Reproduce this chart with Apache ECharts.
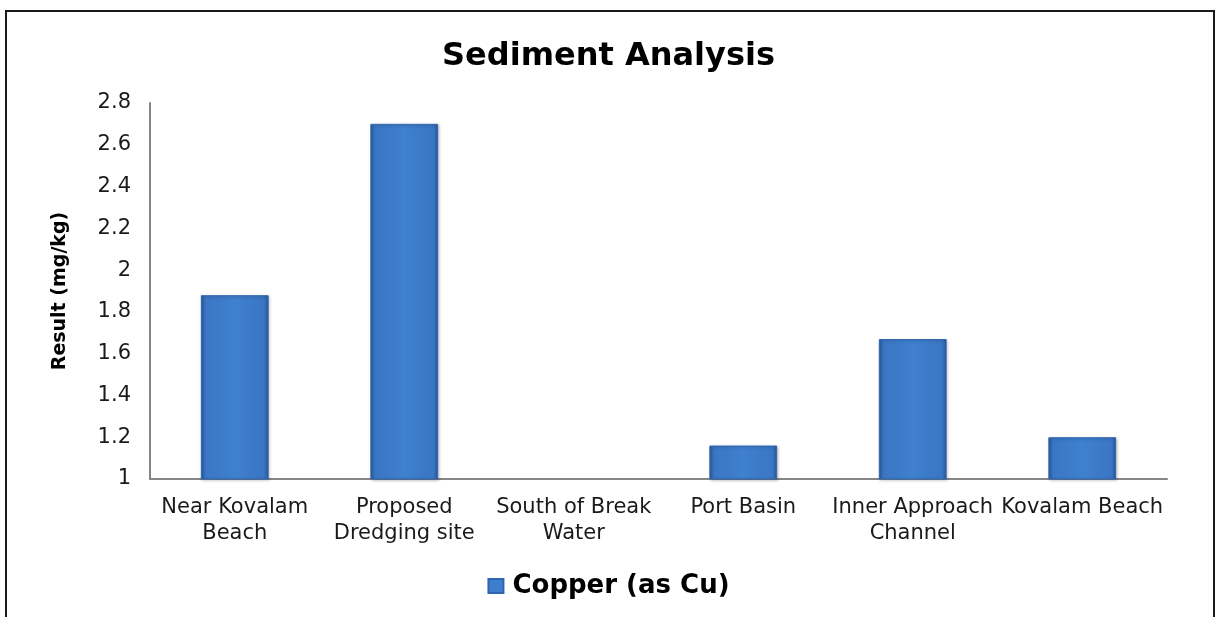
<!DOCTYPE html>
<html>
<head>
<meta charset="utf-8">
<script src="https://cdn.jsdelivr.net/npm/echarts@6/dist/echarts.min.js"></script>
<style>
  html, body { margin: 0; padding: 0; background: #ffffff; }
  #chart { width: 1217px; height: 617px; }
</style>
</head>
<body>
<div id="chart"></div>
<script>
const chartTitle = 'Sediment Analysis';
const yAxisName = 'Result (mg/kg)';
const seriesName = 'Copper (as Cu)';
const categories = [
  'Near Kovalam\nBeach',
  'Proposed\nDredging site',
  'South of Break\nWater',
  'Port Basin',
  'Inner Approach\nChannel',
  'Kovalam Beach'
];
const copperValues = [1.88, 2.7, null, 1.16, 1.67, 1.2];
const yMin = 1;
const yMax = 2.8;
const yStep = 0.2;

const barGradient = new echarts.graphic.LinearGradient(0, 0, 1, 0, [
  { offset: 0, color: '#2a5b9e' },
  { offset: 0.07, color: '#3a76c3' },
  { offset: 0.5, color: '#3f80cf' },
  { offset: 0.93, color: '#3a76c3' },
  { offset: 1, color: '#28569a' }
]);

const chart = echarts.init(document.getElementById('chart'), null, { renderer: 'canvas' });
chart.setOption({
  backgroundColor: '#ffffff',
  animation: false,
  graphic: [{
    type: 'rect',
    shape: { x: 6, y: 11, width: 1208, height: 700 },
    style: { fill: 'none', stroke: '#1a1a1a', lineWidth: 2 },
    silent: true,
    z: -10
  }],
  title: {
    text: chartTitle,
    left: 'center',
    top: 36,
    textStyle: { fontFamily: 'DejaVu Sans', fontWeight: 'bold', fontSize: 32, color: '#000000' }
  },
  legend: {
    top: 568,
    left: 'center',
    itemWidth: 15,
    itemHeight: 14,
    itemGap: 6,
    icon: 'rect',
    textStyle: { fontFamily: 'DejaVu Sans', fontWeight: 'bold', fontSize: 26, color: '#000000', padding: [0, 0, 0, 4] },
    data: [{ name: seriesName, itemStyle: { color: '#3e7ecd' } }]
  },
  grid: { left: 150, right: 50, top: 103, bottom: 138, containLabel: false },
  xAxis: {
    type: 'category',
    data: categories,
    axisLine: { lineStyle: { color: '#868686', width: 2 } },
    axisTick: { show: false },
    axisLabel: {
      interval: 0,
      margin: 16,
      lineHeight: 26,
      fontFamily: 'DejaVu Sans',
      fontSize: 21,
      color: '#1a1a1a'
    }
  },
  yAxis: {
    type: 'value',
    min: yMin,
    max: yMax,
    interval: yStep,
    name: yAxisName,
    nameLocation: 'middle',
    nameGap: 80,
    nameTextStyle: { fontFamily: 'DejaVu Sans', fontWeight: 'bold', fontSize: 19, color: '#000000' },
    axisLine: { show: true, lineStyle: { color: '#868686', width: 2 } },
    axisTick: { show: false },
    splitLine: { show: false },
    axisLabel: {
      margin: 19,
      fontFamily: 'DejaVu Sans',
      fontSize: 21,
      color: '#1a1a1a'
    }
  },
  series: [{
    name: seriesName,
    type: 'bar',
    data: copperValues,
    barWidth: '40%',
    itemStyle: {
      color: barGradient,
      borderColor: '#2f66b0',
      borderWidth: 1,
      shadowColor: 'rgba(0,0,0,0.25)',
      shadowBlur: 3,
      shadowOffsetX: 1,
      shadowOffsetY: 1
    }
  }]
});
</script>
</body>
</html>
